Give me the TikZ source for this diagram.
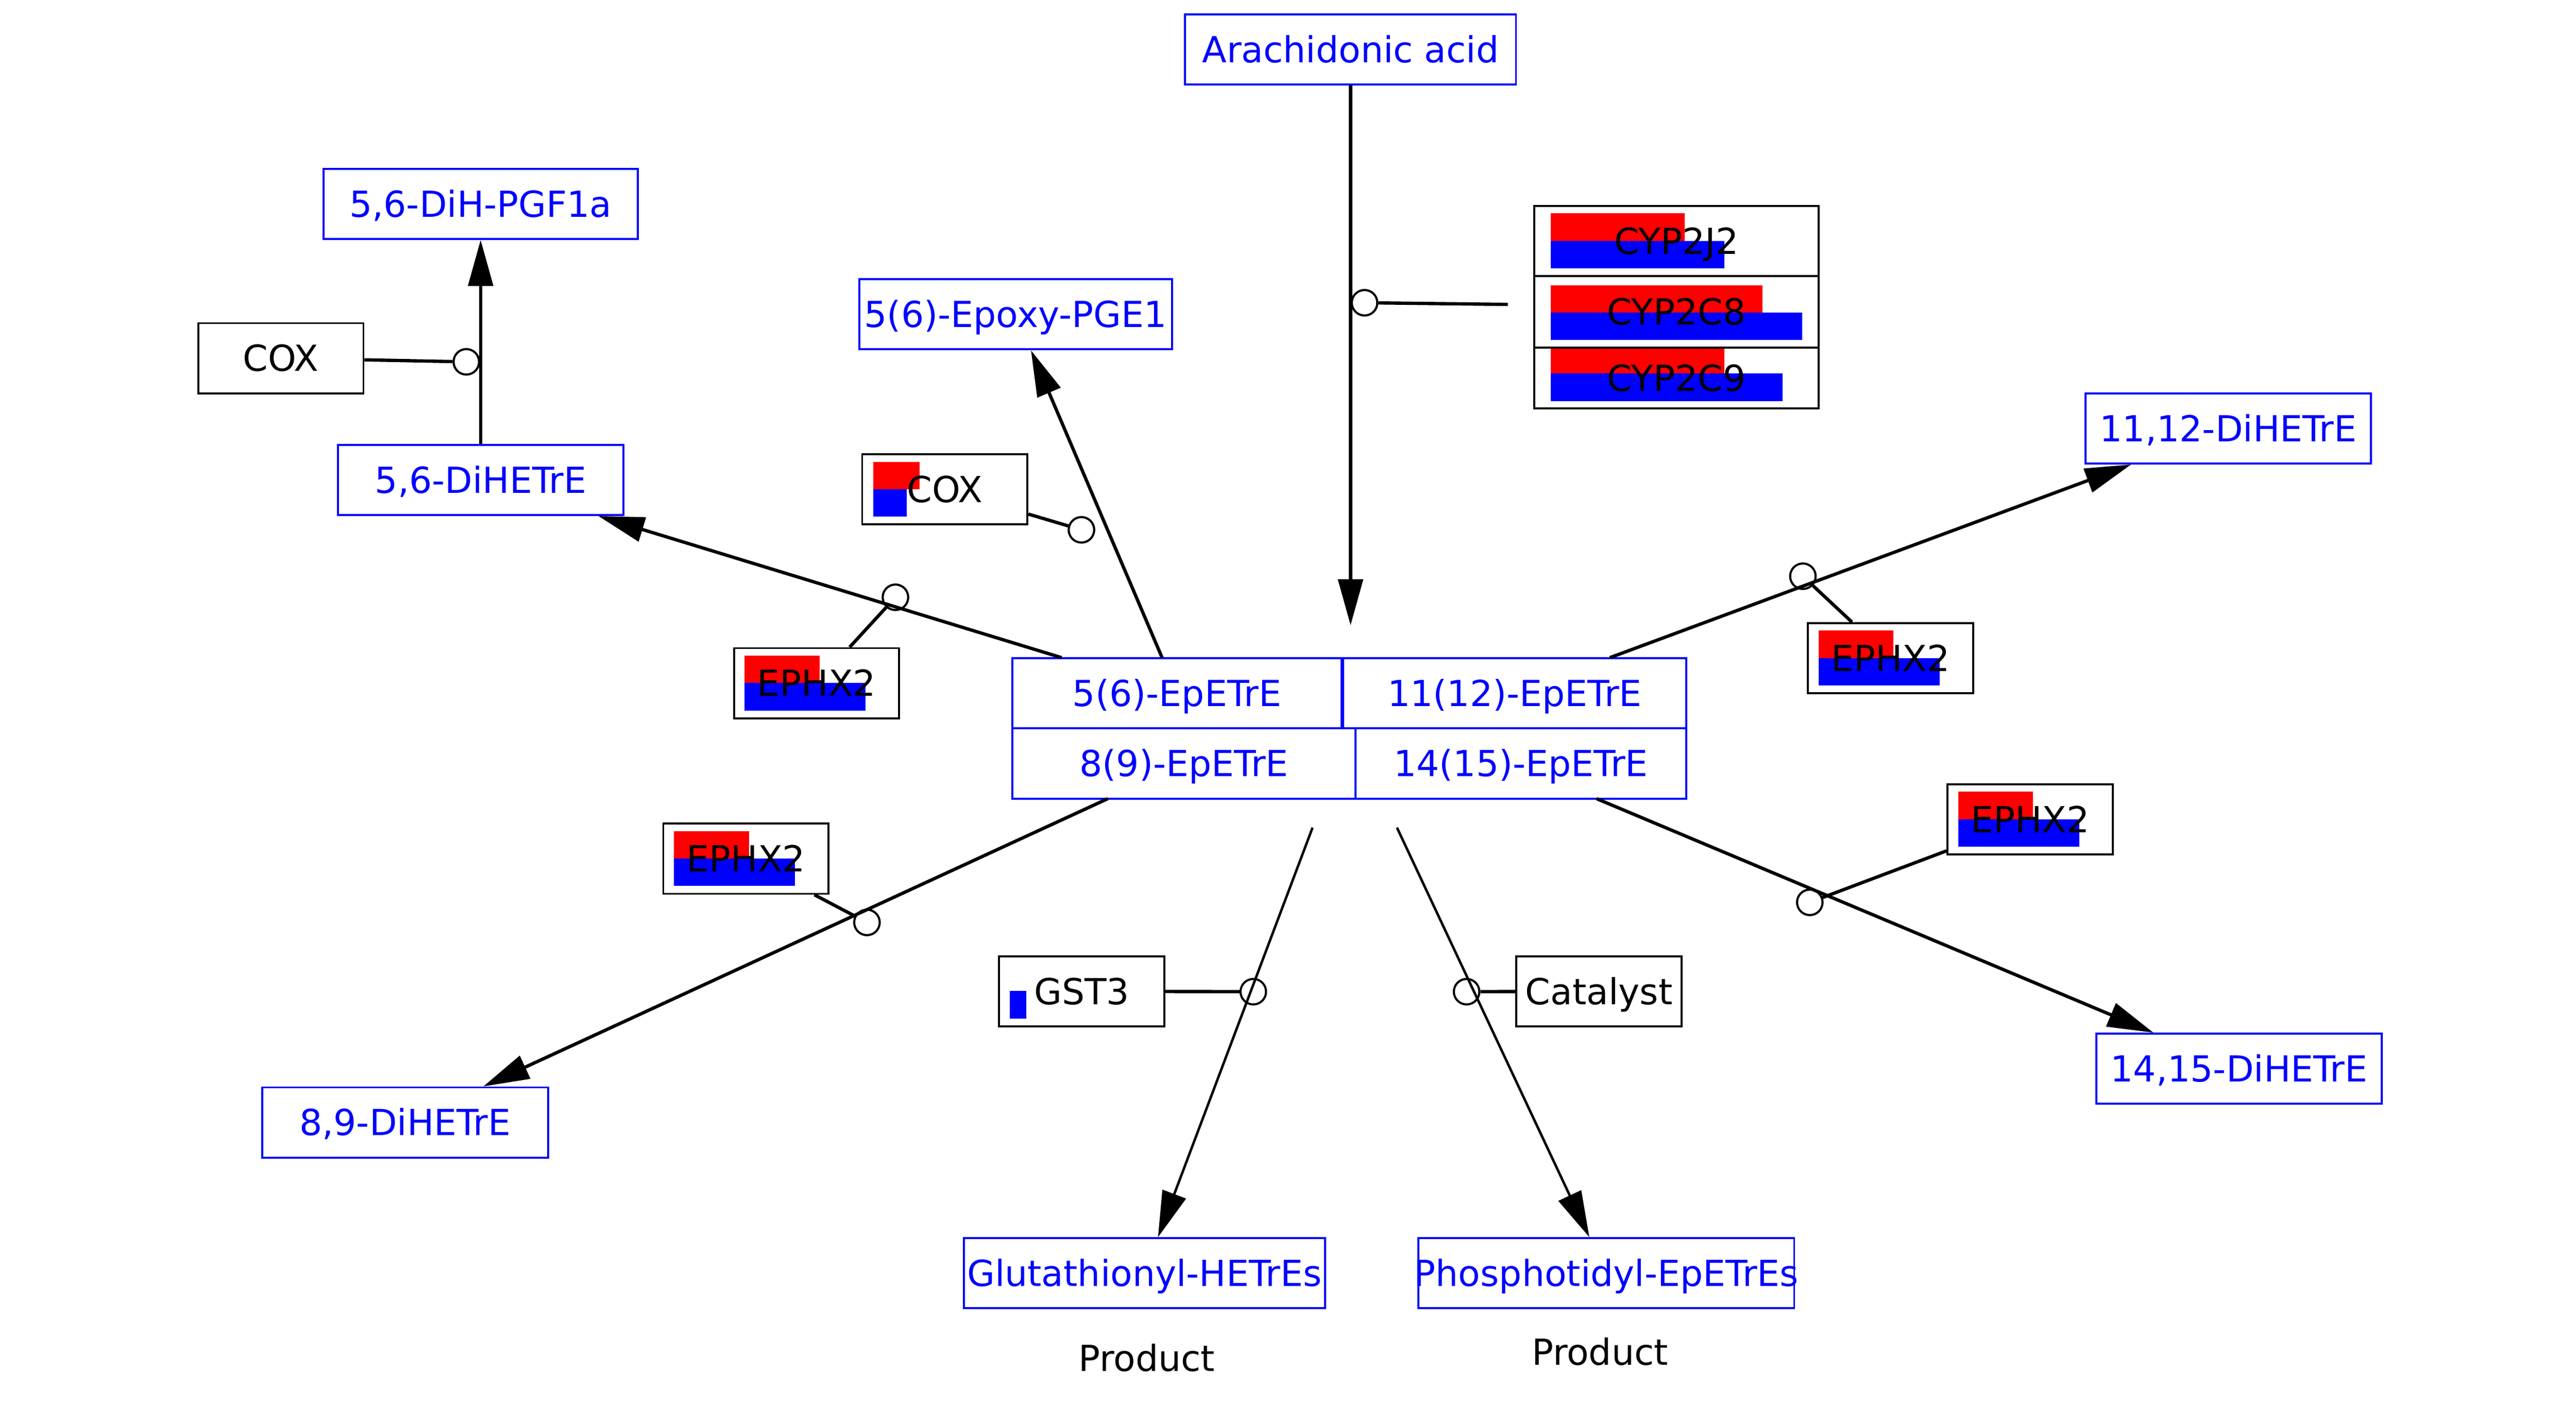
\documentclass[tikz,border=0pt]{standalone}
\usepackage{fontspec}
\setmainfont{DejaVu Sans}
\usetikzlibrary{arrows.meta}

\begin{document}
\begin{tikzpicture}[x=1pt, y=-1pt,
  font=\fontsize{21.8}{26}\selectfont,
  metab/.style={draw=blue, text=blue, line width=1.2pt, minimum height=42.6pt,
    inner sep=0pt, text height=15.9pt, text depth=0pt},
  gene/.style={draw=black, line width=1.2pt, minimum width=100.4pt, minimum height=42.6pt,
    inner sep=0pt, text height=15.9pt, text depth=0pt},
  anc/.style={circle, draw=black, line width=1.3pt, minimum size=15.5pt, inner sep=0pt},
  rxn/.style={line width=2pt, -{Triangle[length=28pt,width=15pt]}},
  modline/.style={line width=2pt}]

  % page size
  \useasboundingbox (0,0) rectangle (1565,855);

  % expression bars (red on top, blue below)
  \def\bh{16.7}
  \foreach \ya/\yb/\yc/\rw/\bw in {129.6/146.4/163/81.5/105.6,
                                   173.3/190/206.7/128.7/153,
                                   211.6/227/243.7/105.6/141} {
    \fill[red] (942,\ya) rectangle ({942+\rw},\yb);
    \fill[blue] (942,\yb) rectangle ({942+\bw},\yc);
  }
  \fill[red] (530.4,280.6) rectangle (558.6,297.3);
  \fill[blue] (530.4,297.3) rectangle (551,313.9);
  \fill[blue] (613.6,602.3) rectangle (623.6,619.2);

  % EPHX2 boxes with their bars
  \foreach \n/\x/\y in {ephxa/496.1/415.2, ephxb/453.2/521.9,
                        ephxc/1148.5/400, ephxd/1233.4/498} {
    \fill[red] ({\x-43.7},{\y-16.8}) rectangle ++(45.5,\bh);
    \fill[blue] ({\x-43.7},{\y-0.1}) rectangle ++(73.5,\bh);
    \node[gene] (\n) at (\x,\y) {EPHX2};
  }

  % metabolites
  \node[metab, minimum width=201pt] (aa) at (820.5,30) {Arachidonic acid};
  \node[metab, minimum width=191pt] (dhpgf) at (292,123.9) {5,6-DiH-PGF1a};
  \node[metab, minimum width=190pt] (epge) at (617,191) {5(6)-Epoxy-PGE1};
  \node[metab, minimum width=173.3pt] (dhet56) at (292,291.7) {5,6-DiHETrE};
  \node[metab, minimum width=173.4pt] (dhet1112) at (1353.7,260.4) {11,12-DiHETrE};
  \node[metab, minimum width=173.8pt] (dhet89) at (246.1,682.2) {8,9-DiHETrE};
  \node[metab, minimum width=173.4pt] (dhet1415) at (1360.3,649.5) {14,15-DiHETrE};
  \node[metab, minimum width=219.5pt] (glut) at (695.25,773.8) {Glutathionyl-HETrEs};
  \node[metab, minimum width=228.3pt, inner xsep=-5pt] (phos) at (975.85,773.8) {Phosphotidyl-EpETrEs};

  % epoxide group
  \node[metab, minimum width=200pt] (ep56) at (715,421.2) {5(6)-EpETrE};
  \node[metab, minimum width=208.4pt] (ep1112) at (920.2,421.2) {11(12)-EpETrE};
  \node[metab, minimum width=208.5pt, minimum height=43pt] (ep89) at (719.25,463.9) {8(9)-EpETrE};
  \node[metab, minimum width=200.9pt, minimum height=43pt] (ep1415) at (923.95,463.9) {14(15)-EpETrE};

  % gene products
  \node[gene] (coxa) at (170.6,217.7) {COX};
  \node[gene] (coxb) at (574,297.4) {COX};
  \node[gene] (gst) at (657.2,602.5) {GST3};
  \node[gene] (cat) at (971.4,602.5) {Catalyst};
  \node[gene, minimum width=173pt] (cyp2j2) at (1018.5,146.4) {CYP2J2};
  \node[gene, minimum width=173pt, minimum height=43.5pt] (cyp2c8) at (1018.5,189.5) {CYP2C8};
  \node[gene, minimum width=173pt, minimum height=37pt] (cyp2c9) at (1018.5,229.8) {CYP2C9};

  % anchors
  \node[anc] (ancaa) at (829,184) {};
  \node[anc] (ancpgf) at (283.3,219.9) {};
  \node[anc] (anc56) at (544,363) {};
  \node[anc] (ancpge) at (657,322) {};
  \node[anc] (anc1112) at (1095.3,350.2) {};
  \node[anc] (anc89) at (526.7,560.6) {};
  \node[anc] (anc1415) at (1099.5,548.4) {};
  \node[anc] (ancglu) at (761.4,602.7) {};
  \node[anc] (ancpho) at (891,602.7) {};

  % free ends of the reactions
  \coordinate (aaend) at (820.5,380);
  \coordinate (cypend) at (916,185);
  \coordinate (s56) at (645,399.7);
  \coordinate (spge) at (706,399.7);
  \coordinate (s1112) at (978,399.7);
  \coordinate (s89) at (673,485.4);
  \coordinate (s1415) at (970,485.4);
  \coordinate (sglu) at (797.4,503);
  \coordinate (spho) at (848.7,503);

  % reactions
  \draw[rxn] (aa) -- (aaend);
  \draw[rxn] (dhet56) -- (dhpgf);
  \draw[rxn] (s56) -- (dhet56);
  \draw[rxn] (spge) -- (epge);
  \draw[rxn] (s1112) -- (dhet1112);
  \draw[rxn] (s89) -- (dhet89);
  \draw[rxn] (s1415) -- (dhet1415);
  \draw[rxn, line width=1.5pt] (sglu) -- (glut);
  \draw[rxn, line width=1.5pt] (spho) -- (phos);

  % modifiers
  \draw[modline] (cypend) -- (ancaa);
  \draw[modline] (coxa) -- (ancpgf);
  \draw[modline] (coxb) -- (ancpge);
  \draw[modline] (ephxa) -- (anc56);
  \draw[modline] (ephxc) -- (anc1112);
  \draw[modline] (ephxb) -- (anc89);
  \draw[modline] (ephxd) -- (anc1415);
  \draw[modline] (gst) -- (ancglu);
  \draw[modline] (cat) -- (ancpho);

  % labels
  \node[anchor=base] (prodglu) at (696.7,833.4) {Product};
  \node[anchor=base] (prodpho) at (972,829.6) {Product};
\end{tikzpicture}
\end{document}
